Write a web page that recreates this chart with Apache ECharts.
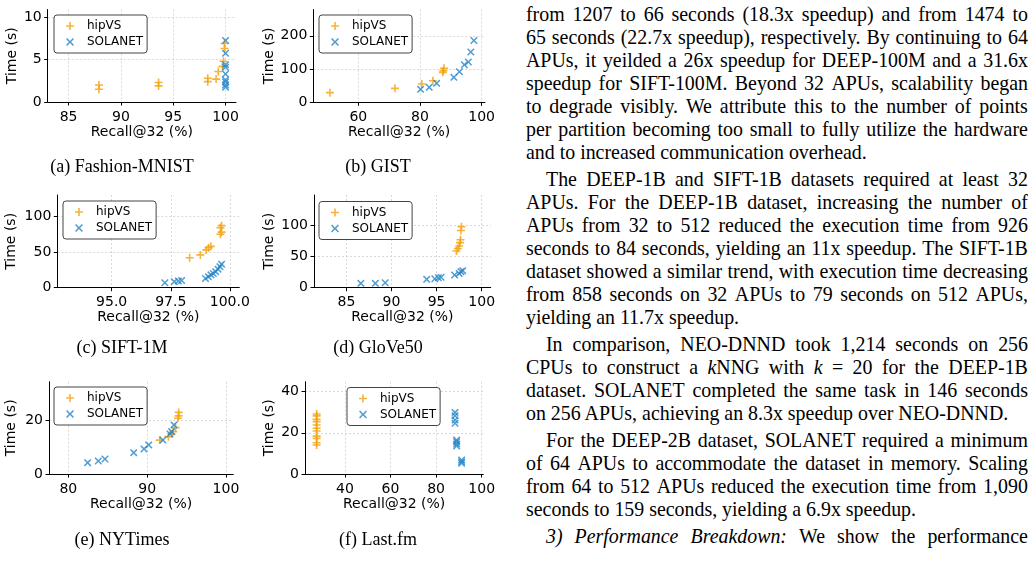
<!DOCTYPE html>
<html>
<head>
<meta charset="utf-8">
<script src="https://cdn.jsdelivr.net/npm/echarts@6/dist/echarts.min.js"></script>
<style>
html, body { margin: 0; padding: 0; background: #fff; }
#figs { position: absolute; left: 0; top: 0; width: 515px; height: 565px; }
#text { position: absolute; left: 526px; top: 0; width: 502px; height: 565px; overflow: hidden;
        font-family: 'Liberation Serif', serif; font-size: 19.9px; color: #000; }
.ln { position: absolute; height: 23px; line-height: 23px; white-space: pre; }
.just { display: flex; justify-content: space-between; }
</style>
</head>
<body>
<div id="figs"></div>
<div id="text"></div>
<script>
// ---- data ----
var seriesNames = ['hipVS', 'SOLANET'];
var captions = ['(a) Fashion-MNIST', '(b) GIST', '(c) SIFT-1M', '(d) GloVe50', '(e) NYTimes', '(f) Last.fm'];

var fashionHip = [[87.9, 2.0], [87.9, 1.5], [93.6, 2.3], [93.6, 1.9], [98.3, 2.8], [98.3, 2.4], [99.1, 2.7],
                  [99.3, 3.6], [99.7, 4.2], [99.8, 4.8], [99.9, 6.3], [99.9, 6.9]];
var fashionSol = [[100, 7.25], [100, 5.75], [100, 4.4], [100, 4.1], [100, 3.3], [100, 2.6], [100, 2.35],
                  [100, 2.0], [100, 1.75]];
var fashionXRange = [83.0, 101.0], fashionYRange = [0, 10.9];
var fashionXTicks = [85, 90, 95, 100], fashionYTicks = [0, 5, 10];

var gistHip = [[50.8, 29], [71.9, 42], [80.6, 55], [84.2, 65], [87.4, 90], [87.6, 95], [87.8, 102]];
var gistSol = [[80.2, 39], [83, 45], [85.4, 57], [91, 75], [92.8, 92], [94.4, 113], [95.7, 121],
               [96.5, 151], [97.5, 186]];
var gistXRange = [45.4, 101.1], gistYRange = [0, 279];
var gistXTicks = [60, 80, 100], gistYTicks = [0, 100, 200];

var siftHip = [[98.3, 42], [98.75, 46], [99.0, 53], [99.1, 56], [99.2, 58], [99.6, 75], [99.65, 78],
               [99.6, 84], [99.65, 87]];
var siftSol = [[97.25, 7], [97.65, 8.5], [97.82, 9.4], [97.96, 10], [98.97, 13], [99.09, 15.5], [99.2, 18],
               [99.3, 20], [99.4, 22.5], [99.5, 26], [99.58, 29.5], [99.65, 33]];
var siftXRange = [92.7, 100.4], siftYRange = [0, 130];
var siftXTicks = [95, 97.5, 100], siftYTicks = [0, 50, 100];

var gloveHip = [[97.2, 59], [97.35, 63], [97.5, 67], [97.6, 72.5], [97.65, 77], [97.7, 92], [97.75, 98]];
var gloveSol = [[86.6, 7], [88.2, 7], [89.3, 8], [93.9, 13.4], [94.8, 14.5], [95.2, 16], [95.5, 16.7],
                [97.0, 20.5], [97.5, 23], [97.7, 25.8], [97.9, 27.4]];
var gloveXRange = [81.4, 101], gloveYRange = [0, 149];
var gloveXTicks = [85, 90, 95, 100], gloveYTicks = [0, 50, 100];

var nytHip = [[91.6, 12.7], [92.7, 14], [93.1, 15], [93.3, 15.9], [93.6, 17.4], [93.9, 20.9], [94.0, 21.8],
              [94.0, 23.1]];
var nytSol = [[82.45, 4.25], [83.8, 4.9], [84.65, 5.6], [88.3, 8], [89.6, 9.4], [90.2, 10.9], [92.0, 12.7],
              [92.9, 15], [93.1, 15.9], [93.4, 18.4]];
var nytXRange = [77.55, 100.93], nytYRange = [0, 34.6];
var nytXTicks = [80, 90, 100], nytYTicks = [0, 20];

var lastHip = [[27.6, 29.1], [27.6, 28.2], [27.6, 26.5], [27.6, 25.4], [27.6, 23.8], [27.6, 22.2], [27.6, 20.9],
               [27.6, 18.4], [27.6, 17.3], [27.6, 15.2], [27.6, 14.1]];
var lastSol = [[88.3, 29.9], [88.3, 28.3], [88.3, 26.2], [88.3, 24.6], [89, 16.5], [89, 15.7], [89, 14.6],
               [89, 13.6], [91.2, 6.8], [91.2, 6.0], [91.2, 5.2]];
var lastXRange = [22.5, 100.7], lastYRange = [0, 44.8];
var lastXTicks = [40, 60, 80, 100], lastYTicks = [0, 20, 40];

// text column, paragraph by paragraph, one string per printed line
var textParas = [
  ['from 1207 to 66 seconds (18.3x speedup) and from 1474 to',
   '65 seconds (22.7x speedup), respectively. By continuing to 64',
   'APUs, it yeilded a 26x speedup for DEEP-100M and a 31.6x',
   'speedup for SIFT-100M. Beyond 32 APUs, scalability began',
   'to degrade visibly. We attribute this to the number of points',
   'per partition becoming too small to fully utilize the hardware',
   'and to increased communication overhead.'],
  ['The DEEP-1B and SIFT-1B datasets required at least 32',
   'APUs. For the DEEP-1B dataset, increasing the number of',
   'APUs from 32 to 512 reduced the execution time from 926',
   'seconds to 84 seconds, yielding an 11x speedup. The SIFT-1B',
   'dataset showed a similar trend, with execution time decreasing',
   'from 858 seconds on 32 APUs to 79 seconds on 512 APUs,',
   'yielding an 11.7x speedup.'],
  ['In comparison, NEO-DNND took 1,214 seconds on 256',
   'CPUs to construct a <i>k</i>NNG with <i>k</i> = 20 for the DEEP-1B',
   'dataset. SOLANET completed the same task in 146 seconds',
   'on 256 APUs, achieving an 8.3x speedup over NEO-DNND.'],
  ['For the DEEP-2B dataset, SOLANET required a minimum',
   'of 64 APUs to accommodate the dataset in memory. Scaling',
   'from 64 to 512 APUs reduced the execution time from 1,090',
   'seconds to 159 seconds, yielding a 6.9x speedup.'],
  ['<i>3)</i> <i>Performance</i> <i>Breakdown:</i> We show the performance']
];

// ---- figure ----
var PLUS = 'path://M4,0H6V4H10V6H6V10H4V6H0V4H4Z';
var CROSS = 'path://M0,1.4L1.4,0L5,3.6L8.6,0L10,1.4L6.4,5L10,8.6L8.6,10L5,6.4L1.4,10L0,8.6L3.6,5Z';
var ORANGE = '#f2a00a', BLUE = '#2385c7';
var FONT = 'DejaVu Sans';

// box = [left, top, width, height] of each plot area, legend = its top-left corner
var panels = [
  { hip: fashionHip, sol: fashionSol, xr: fashionXRange, yr: fashionYRange, xt: fashionXTicks, yt: fashionYTicks,
    box: [47.7, 9.5, 188.3, 92.5], legend: [54, 15], yGap: 28, capX: 122, capY: 167 },
  { hip: gistHip, sol: gistSol, xr: gistXRange, yr: gistYRange, xt: gistXTicks, yt: gistYTicks,
    box: [313.3, 9.5, 171.7, 92.8], legend: [319, 15], yGap: 37, capX: 378, capY: 167 },
  { hip: siftHip, sol: siftSol, xr: siftXRange, yr: siftYRange, xt: siftXTicks, yt: siftYTicks, dec: 1,
    box: [57.3, 195, 182, 92.7], legend: [63, 201], yGap: 39, capX: 122, capY: 348 },
  { hip: gloveHip, sol: gloveSol, xr: gloveXRange, yr: gloveYRange, xt: gloveXTicks, yt: gloveYTicks,
    box: [314, 195, 176.7, 92.7], legend: [319, 201.5], yGap: 38, capX: 378, capY: 348 },
  { hip: nytHip, sol: nytSol, xr: nytXRange, yr: nytYRange, xt: nytXTicks, yt: nytYTicks,
    box: [49, 381.7, 184.3, 92.3], legend: [54, 387], yGap: 31, capX: 122, capY: 540 },
  { hip: lastHip, sol: lastSol, xr: lastXRange, yr: lastYRange, xt: lastXTicks, yt: lastYTicks,
    box: [305, 381.7, 178.3, 92.3], legend: [347, 387.5], yGap: 29, capX: 378, capY: 540 }
];

function axisBase(ticks, range, dec, margin) {
  return {
    type: 'value', min: range[0], max: range[1],
    axisLine: { show: true, onZero: false, lineStyle: { color: '#000', width: 1 } },
    axisTick: { show: true, length: 3.5, customValues: ticks, lineStyle: { color: '#000', width: 1 } },
    axisLabel: { customValues: ticks, margin: margin, fontSize: 14, fontFamily: FONT, color: '#000',
                 formatter: function (v) { return dec ? v.toFixed(dec) : String(Math.round(v)); } },
    splitLine: { show: true, customValues: ticks, lineStyle: { color: '#cfcfcf', width: 0.8, type: [2, 2] } },
    nameLocation: 'middle',
    nameTextStyle: { fontSize: 14, fontFamily: FONT, color: '#000' }
  };
}

var grids = [], xAxes = [], yAxes = [], series = [], legends = [], graphics = [];

panels.forEach(function (p, i) {
  grids.push({ left: p.box[0], top: p.box[1], width: p.box[2], height: p.box[3], containLabel: false });

  var xa = axisBase(p.xt, p.xr, p.dec, 8);
  xa.gridIndex = i; xa.name = 'Recall@32 (%)'; xa.nameGap = 23;
  xAxes.push(xa);

  var ya = axisBase(p.yt, p.yr, 0, 6);
  ya.gridIndex = i; ya.name = 'Time (s)'; ya.nameGap = p.yGap;
  yAxes.push(ya);

  series.push({ name: seriesNames[0], type: 'scatter', xAxisIndex: i, yAxisIndex: i, data: p.hip,
                symbol: PLUS, symbolSize: 8, itemStyle: { color: ORANGE } });
  series.push({ name: seriesNames[1], type: 'scatter', xAxisIndex: i, yAxisIndex: i, data: p.sol,
                symbol: CROSS, symbolSize: 7.5, itemStyle: { color: BLUE } });

  legends.push({
    left: p.legend[0], top: p.legend[1], orient: 'vertical', data: seriesNames, selectedMode: false,
    padding: [5, 4, 5, 12], itemWidth: 8, itemHeight: 8, itemGap: 4,
    textStyle: { fontSize: 12, fontFamily: FONT, color: '#000', padding: [0, 0, 0, 8] },
    borderColor: '#444', borderWidth: 1, borderRadius: 3, backgroundColor: '#fff'
  });

  graphics.push({ type: 'text', x: p.capX, y: p.capY,
                  style: { text: captions[i], align: 'center', verticalAlign: 'middle',
                           font: '18px "Liberation Serif"', fill: '#000' } });
});

var chart = echarts.init(document.getElementById('figs'), null, { renderer: 'canvas' });
chart.setOption({
  animation: false,
  backgroundColor: '#fff',
  grid: grids, xAxis: xAxes, yAxis: yAxes, series: series, legend: legends, graphic: graphics
});

// ---- text column ----
(function () {
  var box = document.getElementById('text');
  var lineNo = 0;
  textParas.forEach(function (para, pi) {
    para.forEach(function (line, li) {
      var indent = (pi > 0 && li === 0) ? 20 : 0;
      var justify = li < para.length - 1 || pi === textParas.length - 1;
      var div = document.createElement('div');
      div.className = 'ln' + (justify ? ' just' : '');
      div.style.left = indent + 'px';
      div.style.width = (502 - indent) + 'px';
      div.style.top = (2.5 + lineNo * 23 + pi * 4) + 'px';
      if (justify) {
        line.split(' ').forEach(function (w) {
          var s = document.createElement('span');
          s.innerHTML = w;
          div.appendChild(s);
        });
      } else {
        div.innerHTML = line;
      }
      box.appendChild(div);
      lineNo++;
    });
  });
})();
</script>
</body>
</html>
